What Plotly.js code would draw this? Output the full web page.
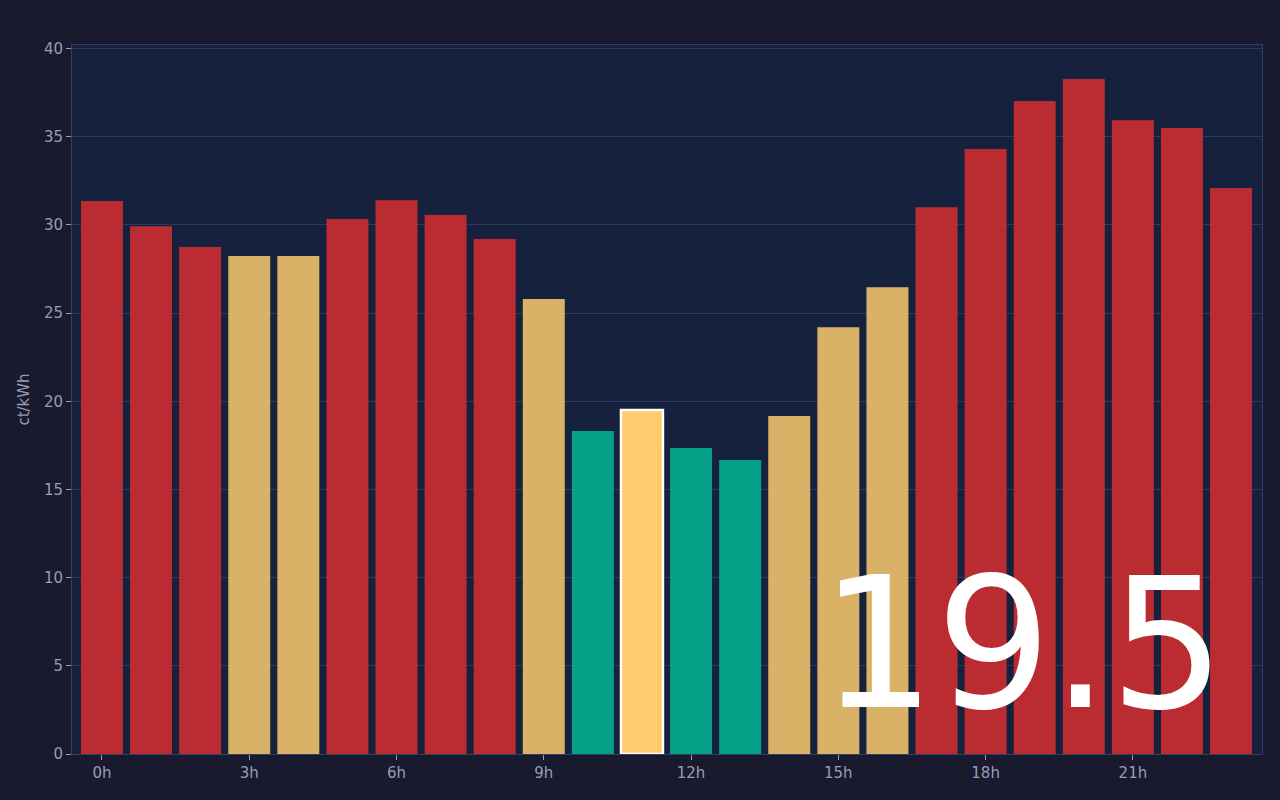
<!DOCTYPE html>
<html>
<head>
<meta charset="utf-8">
<script src="https://cdn.plot.ly/plotly-3.0.1.min.js"></script>
<style>
html,body{margin:0;padding:0;background:#1a1a2e;}
#chart{width:1280px;height:800px;}
</style>
</head>
<body>
<div id="chart"></div>
<script>
const hours = [0,1,2,3,4,5,6,7,8,9,10,11,12,13,14,15,16,17,18,19,20,21,22,23];
const prices = [31.35,29.93,28.74,28.23,28.23,30.33,31.4,30.56,29.2,25.8,18.31,19.5,17.35,16.67,19.16,24.2,26.47,31.0,34.3,37.02,38.27,35.94,35.49,32.09];
const currentHour = 11;
const tickVals = [0,3,6,9,12,15,18,21];
const tickText = ["0h","3h","6h","9h","12h","15h","18h","21h"];
const lowLimit = 19;
const highLimit = 28.5;

const colors = prices.map((p,i) => {
  if (i === currentHour) return '#fecb6e';
  if (p < lowLimit) return '#02ae90';
  if (p > highLimit) return '#cc2e31';
  return '#eec26d';
});
const opac = prices.map((p,i) => i === currentHour ? 1 : 0.9);
const lineW = prices.map((p,i) => i === currentHour ? 2.5 : 0);

const trace = {
  type: 'bar',
  x: hours,
  y: prices,
  marker: {color: colors, opacity: opac, line: {color: '#ffffff', width: lineW}},
  hoverinfo: 'skip'
};

const font = "DejaVu Sans, sans-serif";
const layout = {
  width: 1280, height: 800,
  paper_bgcolor: '#1a1a2e',
  plot_bgcolor: '#16213e',
  margin: {l: 72, r: 18, t: 45, b: 46, pad: 0},
  bargap: 0.145,
  showlegend: false,
  font: {family: font, color: '#9b9bb5', size: 15},
  xaxis: {
    range: [-0.61, 23.63],
    tickvals: tickVals, ticktext: tickText,
    ticks: 'outside', ticklen: 5, tickcolor: '#9b9bb5', tickwidth: 1,
    showgrid: false, zeroline: false,
    showline: true, linecolor: '#2f4068', linewidth: 1, mirror: true,
    tickfont: {family: font, size: 15, color: '#9b9bb5'}
  },
  yaxis: {
    range: [0, 40.2],
    tickvals: [0,5,10,15,20,25,30,35,40],
    ticks: 'outside', ticklen: 5, tickcolor: '#9b9bb5', tickwidth: 1,
    gridcolor: '#2c3a5c', gridwidth: 1,
    zeroline: false,
    showline: true, linecolor: '#2f4068', linewidth: 1, mirror: true,
    tickfont: {family: font, size: 15, color: '#9b9bb5'},
    title: {text: 'ct/kWh', font: {family: font, size: 15, color: '#9b9bb5'}, standoff: 10}
  },
  annotations: [{
    text: String(prices[currentHour]),
    xref: 'paper', yref: 'paper',
    x: 0.971, y: 0.003,
    xanchor: 'right', yanchor: 'bottom',
    showarrow: false,
    font: {family: font, size: 182, color: '#ffffff'}
  }]
};

Plotly.newPlot('chart', [trace], layout, {displayModeBar: false, staticPlot: true});
</script>
</body>
</html>
